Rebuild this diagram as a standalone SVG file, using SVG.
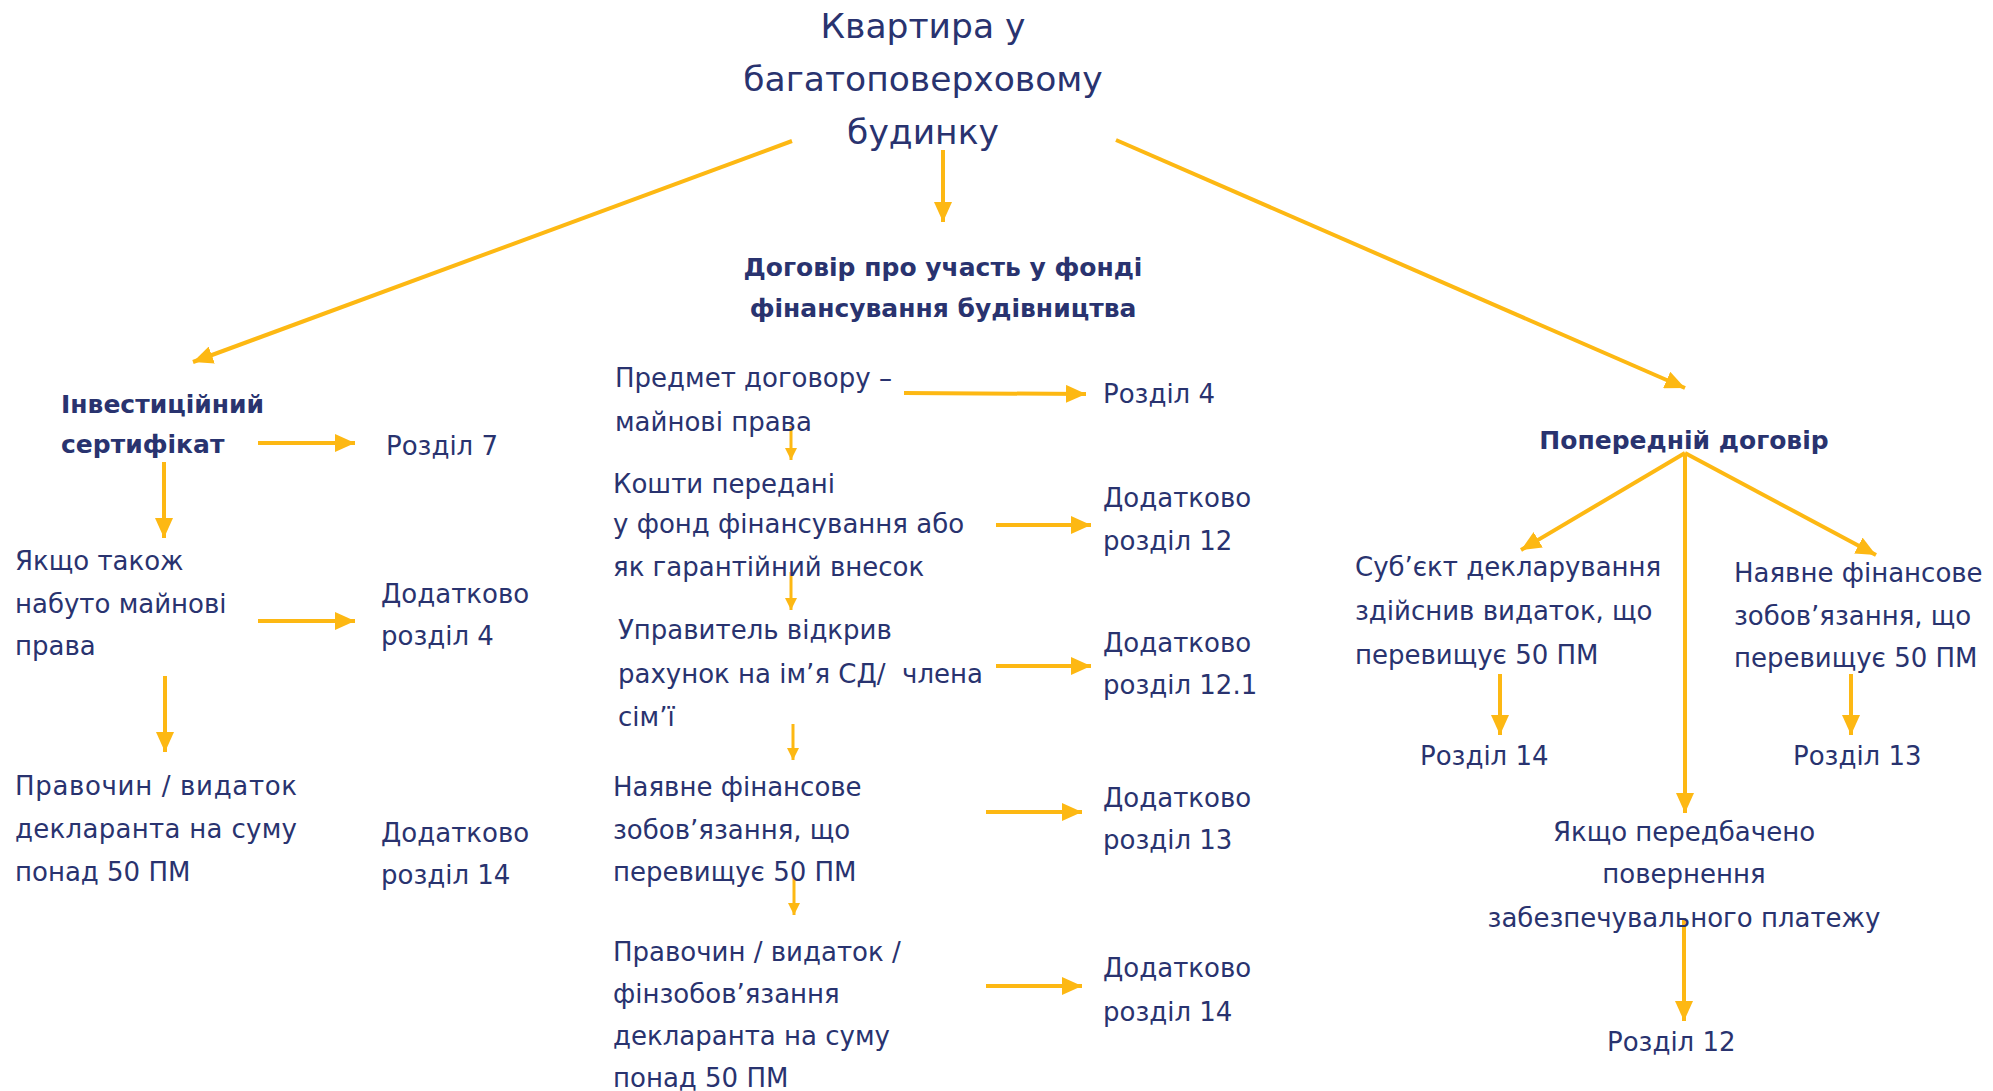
<svg xmlns="http://www.w3.org/2000/svg" width="1993" height="1091" viewBox="0 0 1993 1091">
<style>
text{font-family:"DejaVu Sans","Noto Sans",sans-serif;fill:#29336f;font-size:26px}
.t{font-size:34.5px}
.b{font-weight:bold;font-size:25px}
.c{text-anchor:middle}
.cn line{stroke:#FDB813;stroke-width:4;fill:none;marker-end:url(#ah)}
.cn line.s{stroke-width:3;marker-end:url(#as)}
</style>
<defs>
<marker id="ah" markerUnits="userSpaceOnUse" markerWidth="20" markerHeight="18" refX="20" refY="9" orient="auto"><path d="M0,0 L20,9 L0,18 z" fill="#FDB813"/></marker>
<marker id="as" markerUnits="userSpaceOnUse" markerWidth="12" markerHeight="12" refX="12" refY="6" orient="auto"><path d="M0,0 L12,6 L0,12 z" fill="#FDB813"/></marker>
</defs>
<rect width="1993" height="1091" fill="#fff"/>
<g class="cn" id="connectors">
<line x1="792" y1="141" x2="193" y2="362"/>
<line x1="943" y1="150" x2="943" y2="222"/>
<line x1="1116" y1="140" x2="1685" y2="388"/>
<line x1="258" y1="443" x2="355" y2="443"/>
<line x1="164" y1="462" x2="164" y2="538"/>
<line x1="258" y1="621" x2="355" y2="621"/>
<line x1="165" y1="676" x2="165" y2="752"/>
<line x1="904" y1="393" x2="1086" y2="394"/>
<line class="s" x1="791" y1="426" x2="791" y2="460"/>
<line x1="996" y1="525" x2="1091" y2="525"/>
<line class="s" x1="791" y1="572" x2="791" y2="610"/>
<line x1="996" y1="666" x2="1091" y2="666"/>
<line class="s" x1="793" y1="724" x2="793" y2="760"/>
<line x1="986" y1="812" x2="1082" y2="812"/>
<line class="s" x1="794" y1="877" x2="794" y2="915"/>
<line x1="986" y1="986" x2="1082" y2="986"/>
<line x1="1685" y1="453" x2="1521" y2="550"/>
<line x1="1685" y1="453" x2="1685" y2="813"/>
<line x1="1685" y1="453" x2="1876" y2="555"/>
<line x1="1500" y1="674" x2="1500" y2="735"/>
<line x1="1851" y1="674" x2="1851" y2="735"/>
<line x1="1684" y1="918" x2="1684" y2="1021"/>
</g>
<g id="title"><text class="t c" x="923" y="38">Квартира у</text><text class="t c" x="923" y="91">багатоповерховому</text><text class="t c" x="923" y="144">будинку</text></g>
<g id="dogovir"><text class="b c" x="943" y="276">Договір про участь у фонді</text><text class="b c" x="943" y="317">фінансування будівництва</text></g>
<g id="invest"><text class="b" x="61" y="413">Інвестиційний</text><text class="b" x="61" y="453">сертифікат</text></g>
<g id="r7"><text x="386" y="455">Розділ 7</text></g>
<g id="yakshcho"><text x="15" y="570">Якщо також</text><text x="15" y="613">набуто майнові</text><text x="15" y="655">права</text></g>
<g id="dod4"><text x="381" y="603">Додатково</text><text x="381" y="645">розділ 4</text></g>
<g id="pravochyn1"><text x="15" y="795" textLength="282" lengthAdjust="spacing">Правочин / видаток</text><text x="15" y="838" textLength="282" lengthAdjust="spacing">декларанта на суму</text><text x="15" y="881">понад 50 ПМ</text></g>
<g id="dod14a"><text x="381" y="842">Додатково</text><text x="381" y="884">розділ 14</text></g>
<g id="predmet"><text x="615" y="387">Предмет договору –</text><text x="615" y="431">майнові права</text></g>
<g id="r4"><text x="1103" y="403">Розділ 4</text></g>
<g id="koshty"><text x="613" y="493">Кошти передані</text><text x="613" y="533">у фонд фінансування або</text><text x="613" y="576">як гарантійний внесок</text></g>
<g id="dod12"><text x="1103" y="507">Додатково</text><text x="1103" y="550">розділ 12</text></g>
<g id="upravytel"><text x="618" y="639">Управитель відкрив</text><text x="618" y="683">рахунок на ім’я СД/&#160; члена</text><text x="618" y="726">сім’ї</text></g>
<g id="dod121"><text x="1103" y="652">Додатково</text><text x="1103" y="694">розділ 12.1</text></g>
<g id="nayavne1"><text x="613" y="796">Наявне фінансове</text><text x="613" y="839">зобов’язання, що</text><text x="613" y="881">перевищує 50 ПМ</text></g>
<g id="dod13"><text x="1103" y="807">Додатково</text><text x="1103" y="849">розділ 13</text></g>
<g id="pravochyn2"><text x="613" y="961">Правочин / видаток /</text><text x="613" y="1003">фінзобов’язання</text><text x="613" y="1045">декларанта на суму</text><text x="613" y="1087">понад 50 ПМ</text></g>
<g id="dod14b"><text x="1103" y="977">Додатково</text><text x="1103" y="1021">розділ 14</text></g>
<g id="poperedniy"><text class="b c" x="1684" y="449">Попередній договір</text></g>
<g id="subyekt"><text x="1355" y="576">Суб’єкт декларування</text><text x="1355" y="620">здійснив видаток, що</text><text x="1355" y="664">перевищує 50 ПМ</text></g>
<g id="r14"><text x="1420" y="765">Розділ 14</text></g>
<g id="nayavne2"><text x="1734" y="582">Наявне фінансове</text><text x="1734" y="625">зобов’язання, що</text><text x="1734" y="667">перевищує 50 ПМ</text></g>
<g id="r13"><text x="1793" y="765">Розділ 13</text></g>
<g id="povernennya"><text class="c" x="1684" y="841">Якщо передбачено</text><text class="c" x="1684" y="883">повернення</text><text class="c" x="1684" y="927">забезпечувального платежу</text></g>
<g id="r12"><text x="1607" y="1051">Розділ 12</text></g>
</svg>
